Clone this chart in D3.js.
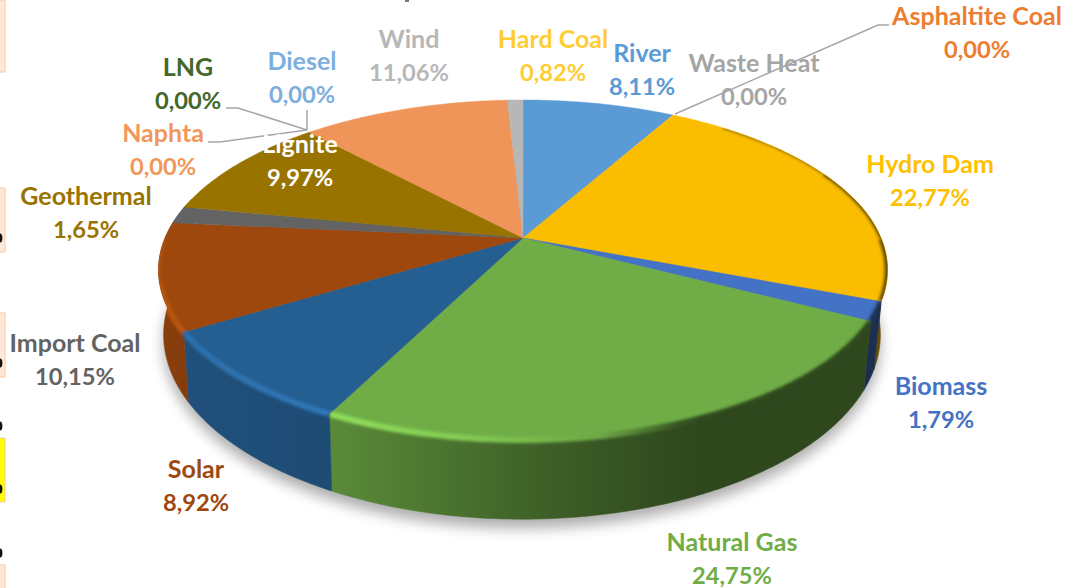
<!DOCTYPE html>
<html><head><meta charset="utf-8">
<script src="https://cdn.jsdelivr.net/npm/d3@7/dist/d3.min.js"></script>
<style>html,body{margin:0;padding:0;background:#fff;overflow:hidden}svg{display:block}</style>
</head><body>
<svg id="c" width="1078" height="588"></svg>
<script>
const categories = ["River","Asphaltite Coal","Waste Heat","Hydro Dam","Biomass","Natural Gas","Solar","Import Coal","Geothermal","Lignite","LNG","Diesel","Naphta","Wind","Hard Coal"];
const values = [8.11,0,0,22.77,1.79,24.75,8.92,10.15,1.65,9.97,0,0,0,11.06,0.82];
const sliceColors = ["#5B9BD5","#ED7D31","#A5A5A5","#FBBD00","#4472C4","#70AD47","#255E91","#9E480E","#636363","#997300","#43682B","#7CAFDD","#F1975A","#EF955A","#B7B7B7"];
const labelColors = ["#5B9BD5","#ED7D31","#A5A5A5","#FFC000","#4472C4","#70AD47","#9E480E","#636363","#997300","#FFFFFF","#43682B","#7CAFDD","#F1975A","#B7B7B7","#FFCD33"];
const labelX = [642,977,754,930,941,732,196,75,86,300,188,302,163,409,553];
const labelY = [54,17,64,165,387,543,470,344,197,145,68,62,134,40,40];
const leaderLines = [
  [[675,114],[878,25],[889,25]],
  [[226,108],[238,108],[307,130]],
  [[208,142],[220,142],[307,130]],
  [[307,110],[307,130]]
];
const sideBoxes = [[0,72,"#FDE9D9"],[188,252,"#FDE9D9"],[313,377,"#FDE9D9"],[438,502,"#FFFF00"],[565,600,"#FDE9D9"]];
const sideMarks = [238,363,426,489,553];

const svg = d3.select("#c");
const defs = svg.append("defs");
defs.append("filter").attr("id","shadow").attr("x","-10%").attr("y","-10%").attr("width","120%").attr("height","120%")
  .append("feGaussianBlur").attr("stdDeviation",7);
defs.append("filter").attr("id","soft").attr("filterUnits","userSpaceOnUse")
  .attr("x",0).attr("y",0).attr("width",1078).attr("height",588)
  .append("feGaussianBlur").attr("stdDeviation",1.6);

// Perspective projection of a flat disc: u right, v toward the viewer
const k = 0.188;
const topFace = {cx:523, cy:238, a:358, b:164};
const botFace = {cx:522, cy:300, a:352, b:178};
const project = (f,theta) => {
  const u = Math.sin(theta), v = -Math.cos(theta), w = 1 - k*v;
  return [f.cx + f.a*u/w, f.cy + f.b*v/w];
};
const arcPts = (f,a0,a1) => {
  const n = Math.max(2, Math.ceil((a1-a0)/0.01));
  return d3.range(n+1).map(i => project(f, a0 + (a1-a0)*i/n));
};
const line = d3.line();
const pie = d3.pie().sort(null).value((d,i)=>values[i]);
const arcs = pie(categories).map((a,i)=>({...a,i})).filter(a=>values[a.i]>0);

// side boxes from the neighbouring table
sideBoxes.forEach(([y0,y1,c])=>{
  svg.append("rect").attr("x",-2).attr("y",y0).attr("width",7).attr("height",y1-y0)
    .attr("fill",c).attr("stroke","#FAC8A0").attr("stroke-width",1);
});
svg.selectAll(".mark").data(sideMarks).join("ellipse").attr("cx",0).attr("cy",d=>d).attr("rx",2.4).attr("ry",4.5).attr("fill","#111");
svg.append("rect").attr("x",405).attr("y",0).attr("width",4).attr("height",2).attr("fill","#777");

// shadow
svg.append("path").attr("d",line(arcPts(botFace,0,2*Math.PI))+"Z")
  .attr("transform","translate(0,9)").attr("fill","#000").attr("opacity",0.32).attr("filter","url(#shadow)");

// shading along x
const wallShade = d3.scaleLinear().domain([150,335,520,700,900]).range([0.86,0.8,0.58,0.41,0.41]);
const rimShade = d3.scaleLinear().domain([150,335,480,600,690,900]).range([1.16,1.28,1.16,0.97,0.42,0.42]);
const shadeStops = d3.range(150,901,25);
const shadeColor = (c,f) => {
  const r = d3.rgb(c);
  return d3.rgb(Math.min(255,r.r*f),Math.min(255,r.g*f),Math.min(255,r.b*f)).formatHex();
};
const makeGrad = (id,c,shade) => {
  const g = defs.append("linearGradient").attr("id",id).attr("gradientUnits","userSpaceOnUse")
    .attr("x1",150).attr("x2",900).attr("y1",0).attr("y2",0);
  shadeStops.forEach(x=>g.append("stop").attr("offset",(x-150)/750).attr("stop-color",shadeColor(c,shade(x))));
};

// walls
const nearStart = Math.PI*0.42, nearEnd = Math.PI*1.58;
const clip = defs.append("clipPath").attr("id","body");
arcs.forEach(a=>{
  const a0=Math.max(a.startAngle,nearStart), a1=Math.min(a.endAngle,nearEnd);
  if(a1<=a0) return;
  makeGrad("w"+a.i,sliceColors[a.i],wallShade);
  const pts = arcPts(topFace,a0,a1).concat(arcPts(botFace,a0,a1).reverse());
  const d = line(pts)+"Z";
  clip.append("path").attr("d",d);
  svg.append("path").attr("d",d).attr("fill",`url(#w${a.i})`)
    .attr("stroke",`url(#w${a.i})`).attr("stroke-width",0.5);
});

// top faces
arcs.forEach(a=>{
  const pts = [[topFace.cx,topFace.cy]].concat(arcPts(topFace,a.startAngle,a.endAngle));
  const d = line(pts)+"Z";
  clip.append("path").attr("d",d);
  svg.append("path").attr("d",d).attr("fill",sliceColors[a.i])
    .attr("stroke",sliceColors[a.i]).attr("stroke-width",0.4);
});

// bevel along the rim: thin on the far shoulder, wider on the near side
const rimBands = [
  {from:Math.PI*0.22, to:Math.PI*0.36, width:1.6},
  {from:Math.PI*0.36, to:Math.PI*0.5, width:3.6},
  {from:Math.PI*0.5, to:Math.PI*1.42, width:6},
  {from:Math.PI*1.42, to:Math.PI*1.5, width:3.5}
];
const rims = svg.append("g").attr("clip-path","url(#body)").append("g").attr("filter","url(#soft)");
arcs.forEach(a=>{
  makeGrad("r"+a.i,sliceColors[a.i],rimShade);
  rimBands.forEach(b=>{
    const a0=Math.max(a.startAngle,b.from), a1=Math.min(a.endAngle,b.to);
    if(a1<=a0) return;
    rims.append("path").attr("d",line(arcPts(topFace,a0+0.003,a1-0.003))).attr("fill","none")
      .attr("stroke",`url(#r${a.i})`).attr("stroke-width",b.width);
  });
});

// leader lines
svg.selectAll(".leader").data(leaderLines).join("path").attr("class","leader")
  .attr("d",d=>line(d)).attr("fill","none").attr("stroke","#A6A6A6").attr("stroke-width",1.5);

// labels
const fmt = v => v.toFixed(2).replace(".",",")+"%";
const labels = svg.selectAll(".lab").data(categories).join("text").attr("class","lab")
  .attr("text-anchor","middle").attr("font-family","Lato, 'Open Sans', sans-serif")
  .attr("font-weight",700).attr("fill",(d,i)=>labelColors[i]);
labels.append("tspan").attr("font-size",25).attr("x",(d,i)=>labelX[i]).attr("y",(d,i)=>labelY[i]+8).text(d=>d);
labels.append("tspan").attr("font-size",23.7).attr("x",(d,i)=>labelX[i]).attr("y",(d,i)=>labelY[i]+41).text((d,i)=>fmt(values[i]));
</script>
</body></html>
